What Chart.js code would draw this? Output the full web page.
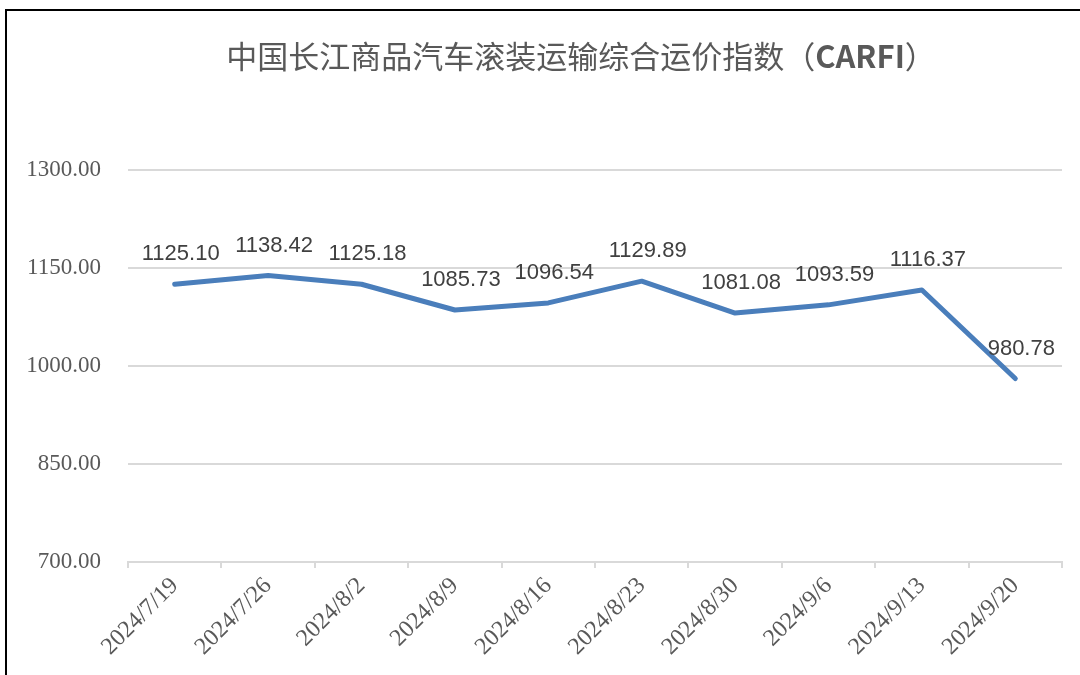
<!DOCTYPE html>
<html>
<head>
<meta charset="utf-8">
<script src="https://cdn.jsdelivr.net/npm/chart.js@4.4.0/dist/chart.umd.min.js"></script>
<style>
    html, body { margin: 0; padding: 0; background: #ffffff; }
    #marco { position: relative; width: 1080px; height: 675px; }
    #borde { position: absolute; left: 5px; top: 9px; right: 0; bottom: 0;
             border-top: 2px solid #000; border-left: 2px solid #000; pointer-events: none; }
</style>
</head>
<body>
<div id="marco">
    <canvas id="carfiChart" width="1080" height="675"></canvas>
    <div id="borde"></div>
</div>
<script>
// Datos del índice CARFI
const fechas = ['2024/7/19', '2024/7/26', '2024/8/2', '2024/8/9', '2024/8/16',
                '2024/8/23', '2024/8/30', '2024/9/6', '2024/9/13', '2024/9/20'];
const valores = [1125.10, 1138.42, 1125.18, 1085.73, 1096.54,
                 1129.89, 1081.08, 1093.59, 1116.37, 980.78];
const ejeMin = 700;
const ejeMax = 1300;
const paso = 150;

const tituloCjk = '中国长江商品汽车滚装运输综合运价指数（';
const tituloLatin = 'CARFI';
const tituloFin = '）';

// Plugin para dibujar el título con partes en negrita
const tituloPlugin = {
    id: 'tituloPlugin',
    afterDraw(chart) {
        const ctx = chart.ctx;
        ctx.save();
        ctx.fillStyle = '#595959';
        ctx.textBaseline = 'middle';
        const f1 = '31px "Noto Sans CJK SC"';
        const f2 = 'bold 31px "Noto Sans CJK SC"';
        ctx.font = f1;
        const w1 = ctx.measureText(tituloCjk).width;
        const w3 = ctx.measureText(tituloFin).width;
        ctx.font = f2;
        const w2 = ctx.measureText(tituloLatin).width;
        let x = 581 - (w1 + w2 + w3) / 2;
        const y = 56;
        ctx.textAlign = 'left';
        ctx.font = f1;
        ctx.fillText(tituloCjk, x, y);
        x += w1;
        ctx.font = f2;
        ctx.fillText(tituloLatin, x, y);
        x += w2;
        ctx.font = f1;
        ctx.fillText(tituloFin, x, y);
        ctx.restore();
    }
};

// Plugin para las etiquetas de datos
const etiquetasPlugin = {
    id: 'etiquetasPlugin',
    afterDatasetsDraw(chart) {
        const ctx = chart.ctx;
        const meta = chart.getDatasetMeta(0);
        ctx.save();
        ctx.font = '22px "Liberation Sans"';
        ctx.fillStyle = '#404040';
        ctx.textAlign = 'center';
        ctx.textBaseline = 'middle';
        meta.data.forEach((punto, i) => {
            ctx.fillText(valores[i].toFixed(2), punto.x + 6, punto.y - 30);
        });
        ctx.restore();
    }
};

const ctx = document.getElementById('carfiChart').getContext('2d');
new Chart(ctx, {
    type: 'line',
    data: {
        labels: fechas,
        datasets: [{
            data: valores,
            borderColor: '#4a7ebb',
            borderWidth: 5,
            pointRadius: 0,
            borderCapStyle: 'round',
            borderJoinStyle: 'round',
            tension: 0
        }]
    },
    options: {
        responsive: false,
        animation: false,
        layout: {
            padding: { top: 170, right: 18, bottom: 0, left: 0 }
        },
        plugins: {
            legend: { display: false },
            title: { display: false },
            tooltip: { enabled: false }
        },
        scales: {
            x: {
                offset: true,
                grid: {
                    offset: true,
                    drawOnChartArea: false,
                    drawTicks: true,
                    tickLength: 6,
                    color: '#d9d9d9',
                    lineWidth: 2
                },
                border: { display: true, color: '#d9d9d9', width: 2 },
                ticks: {
                    minRotation: 45,
                    maxRotation: 45,
                    autoSkip: false,
                    padding: 4,
                    color: '#595959',
                    font: { family: '"Liberation Serif"', size: 24 }
                },
                afterFit(scale) {
                    scale.height = 675 - 562;
                }
            },
            y: {
                min: ejeMin,
                max: ejeMax,
                grid: {
                    color: '#d9d9d9',
                    lineWidth: 2,
                    drawTicks: false
                },
                border: { display: false },
                ticks: {
                    stepSize: paso,
                    padding: 27,
                    color: '#595959',
                    font: { family: '"Liberation Serif"', size: 23 },
                    callback: v => v.toFixed(2)
                },
                afterFit(scale) {
                    scale.width = 128;
                }
            }
        }
    },
    plugins: [tituloPlugin, etiquetasPlugin]
});
</script>
</body>
</html>
